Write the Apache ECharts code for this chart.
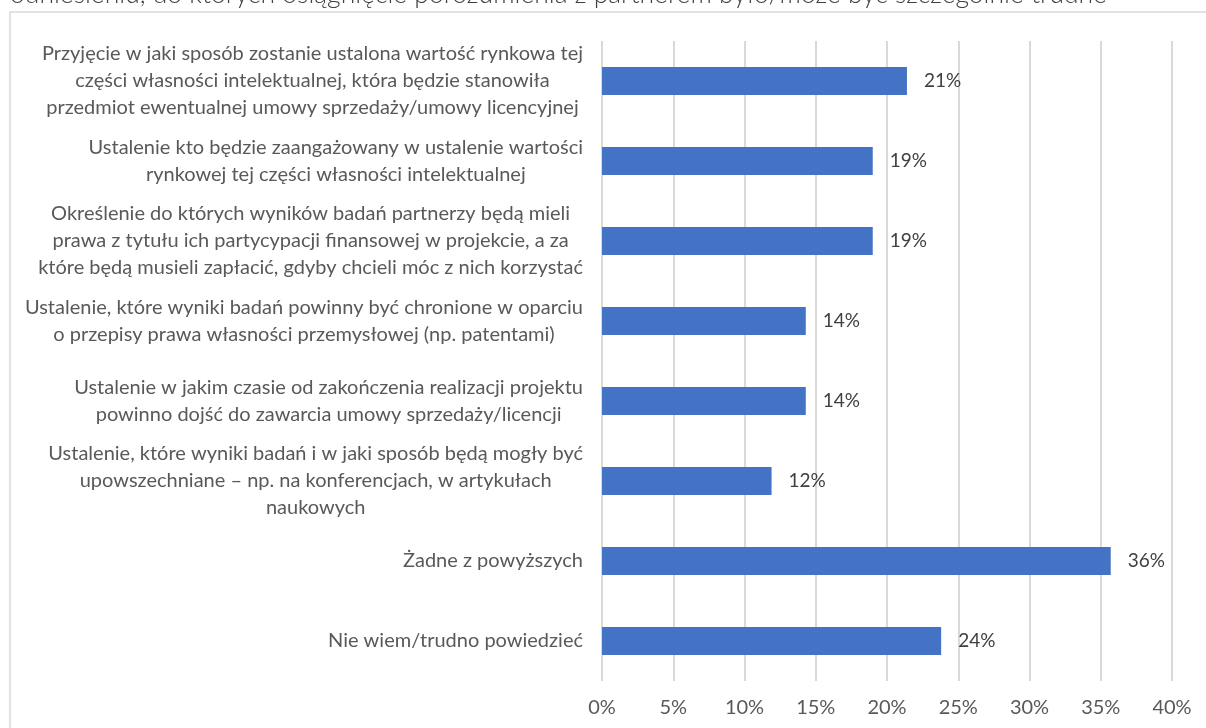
<!DOCTYPE html>
<html>
<head>
<meta charset="utf-8">
<style>
  html, body { margin: 0; padding: 0; background: #ffffff; }
  #chart { width: 1206px; height: 728px; }
</style>
<script src="https://cdn.jsdelivr.net/npm/echarts@6/dist/echarts.min.js"></script>
</head>
<body>
<div id="chart"></div>
<script>
// Survey answers (share of respondents, %), top to bottom
const categories = [
  "Przyjęcie w jaki sposób zostanie ustalona wartość rynkowa tej\nczęści własności intelektualnej, która będzie stanowiła\nprzedmiot ewentualnej umowy sprzedaży/umowy licencyjnej",
  "Ustalenie kto będzie zaangażowany w ustalenie wartości\nrynkowej tej części własności intelektualnej",
  "Określenie do których wyników badań partnerzy będą mieli\nprawa z tytułu ich partycypacji finansowej w projekcie, a za\nktóre będą musieli zapłacić, gdyby chcieli móc z nich korzystać",
  "Ustalenie, które wyniki badań powinny być chronione w oparciu\no przepisy prawa własności przemysłowej (np. patentami)",
  "Ustalenie w jakim czasie od zakończenia realizacji projektu\npowinno dojść do zawarcia umowy sprzedaży/licencji",
  "Ustalenie, które wyniki badań i w jaki sposób będą mogły być\nupowszechniane – np. na konferencjach, w artykułach\nnaukowych",
  "Żadne z powyższych",
  "Nie wiem/trudno powiedzieć"
];
const shares = [21.4, 19.0, 19.0, 14.3, 14.3, 11.9, 35.7, 23.8];
const axisTicks = [0, 5, 10, 15, 20, 25, 30, 35, 40];
const headingText = "odniesieniu, do których osiągnięcie porozumienia z partnerem było/może być szczególnie trudne";

const FONT = "Lato, 'Open Sans', sans-serif";
const LABEL_SIZE = 20;
const LABEL_LINE = 27;
const LABEL_COLOR = '#595959';

const chart = echarts.init(document.getElementById('chart'), null, { renderer: 'canvas' });

chart.setOption({
  backgroundColor: '#ffffff',
  animation: false,
  graphic: [
    {
      // chart frame, partly outside the page
      type: 'rect',
      shape: { x: 10, y: 12, width: 1220, height: 740 },
      style: { fill: 'none', stroke: '#d9d9d9', lineWidth: 1.5 },
      silent: true,
      z: -10
    },
    {
      // last line of the heading above the frame
      type: 'text',
      left: 10,
      top: -19,
      silent: true,
      style: {
        text: headingText,
        font: "300 26.5px " + FONT,
        fill: '#404040'
      }
    }
  ],
  grid: {
    left: 602,
    right: 34,
    top: 41,
    bottom: 47,
    containLabel: false
  },
  xAxis: {
    type: 'value',
    min: axisTicks[0],
    max: axisTicks[axisTicks.length - 1],
    interval: axisTicks[1] - axisTicks[0],
    axisLine: { show: false },
    axisTick: { show: false },
    splitLine: { show: true, lineStyle: { color: '#d9d9d9', width: 2 } },
    axisLabel: {
      formatter: '{value}%',
      color: LABEL_COLOR,
      fontFamily: FONT,
      fontSize: 20,
      margin: 17
    }
  },
  yAxis: {
    type: 'category',
    inverse: true,
    data: categories,
    axisLine: { show: false },
    axisTick: { show: false },
    splitLine: { show: false },
    axisLabel: {
      margin: 19,
      align: 'right',
      color: LABEL_COLOR,
      fontFamily: FONT,
      fontSize: LABEL_SIZE,
      lineHeight: LABEL_LINE,
      // each line centred inside the right-aligned label block
      formatter: function (v) {
        return v.split('\n').map(function (line) { return '{c|' + line + '}'; }).join('\n');
      },
      rich: {
        c: {
          align: 'center',
          color: LABEL_COLOR,
          fontFamily: FONT,
          fontSize: LABEL_SIZE,
          lineHeight: LABEL_LINE
        }
      }
    }
  },
  series: [
    {
      type: 'bar',
      data: shares,
      barWidth: 28,
      itemStyle: { color: '#4472c4' },
      label: {
        show: true,
        position: 'right',
        distance: 17,
        color: '#404040',
        fontFamily: FONT,
        fontSize: 19,
        formatter: function (p) { return Math.round(p.value) + '%'; }
      }
    }
  ]
});
</script>
</body>
</html>
